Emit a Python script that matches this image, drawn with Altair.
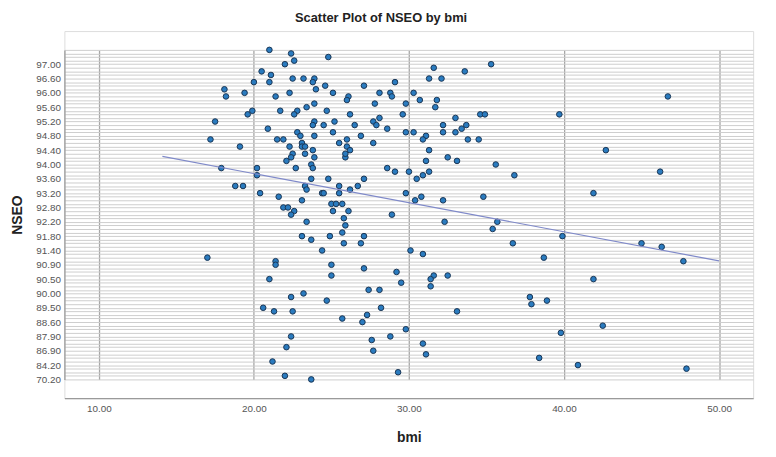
import altair as alt
import pandas as pd

# NSEO categories, top of the axis to bottom
categories = [
    "97.60", "97.40", "97.20", "97.10", "97.00", "96.90", "96.80", "96.70", "96.60", "96.50",
    "96.40", "96.20", "96.00", "95.90", "95.80", "95.70", "95.60", "95.50", "95.40", "95.30",
    "95.20", "95.10", "95.00", "94.90", "94.80", "94.70", "94.60", "94.50", "94.40", "94.30",
    "94.20", "94.10", "94.00", "93.90", "93.80", "93.70", "93.60", "93.50", "93.40", "93.30",
    "93.20", "93.10", "93.00", "92.90", "92.80", "92.60", "92.50", "92.40", "92.20", "92.10",
    "92.00", "91.90", "91.80", "91.70", "91.60", "91.50", "91.40", "91.30", "91.10", "91.00",
    "90.90", "90.80", "90.70", "90.60", "90.50", "90.40", "90.30", "90.10", "90.00", "89.90",
    "89.80", "89.60", "89.50", "89.30", "89.00", "88.80", "88.60", "88.40", "88.20", "88.00",
    "87.90", "87.60", "87.40", "87.20", "86.90", "86.50", "86.00", "85.20", "84.20", "82.00",
    "80.50", "76.00", "70.20",
]

labeled = [
    "97.00", "96.60", "96.00", "95.60", "95.20", "94.80", "94.40", "94.00", "93.60", "93.20",
    "92.80", "92.20", "91.80", "91.40", "90.90", "90.50", "90.00", "89.50", "88.60", "87.90",
    "86.90", "84.20", "70.20",
]

bmi = [
    21.0, 22.4, 24.8, 22.6, 22.0, 20.5, 21.1, 20.0, 21.0, 22.5, 23.2, 23.9, 23.8, 24.0, 24.6,
    25.1, 18.1, 18.2, 19.4, 22.3, 21.4, 23.9, 23.4, 21.7, 22.8, 22.6, 19.9, 19.6, 24.7, 17.5,
    23.9, 23.8, 24.5, 25.2, 20.9, 22.8, 23.0, 23.9, 25.1, 17.2, 21.5, 21.9, 23.1, 23.1, 25.5,
    19.1, 22.3, 23.3, 23.8, 23.3, 22.5, 22.4, 23.9, 22.1, 25.9, 25.9, 17.9, 20.2, 20.2, 22.7,
    23.7, 23.8, 18.8, 19.3, 20.4, 21.6, 23.3, 23.4, 23.7, 24.8, 24.4, 24.5, 25.5, 25.5, 23.1,
    21.9, 22.2, 22.6, 22.4, 25.0, 25.3, 25.7, 25.1, 25.8, 23.4, 23.1, 23.7, 24.9, 25.7, 25.8,
    24.4, 17.0, 21.4, 21.4, 25.0, 25.0, 21.0, 23.2, 22.4, 24.7, 20.6, 21.3, 22.5, 25.7, 22.4,
    22.1, 21.2, 22.0, 23.7,
    31.6, 35.3, 33.6, 31.3, 32.1, 29.1, 27.1, 28.1, 28.8, 28.9, 30.3, 26.1, 26.0, 27.8, 29.8,
    30.7, 31.8, 31.7, 26.2, 29.6, 34.6, 34.9, 33.0, 27.7, 28.1, 27.9, 26.5, 28.6, 32.2, 32.2,
    29.8, 30.3, 33.0, 33.4, 33.7, 26.9, 31.1, 30.9, 33.8, 34.5, 26.0, 27.7, 26.0, 26.2, 31.3,
    32.5, 33.1, 31.1, 35.6, 36.8, 28.6, 29.1, 30.0, 31.3, 30.9, 30.5, 27.1, 26.7, 26.2, 29.8,
    30.8, 30.4, 32.2, 34.8, 26.1, 28.9, 32.3, 35.7, 35.4, 25.9, 27.1, 26.9, 36.7, 30.1, 30.9,
    27.1, 29.2, 29.5, 31.6, 31.4, 31.4, 32.5, 27.4, 28.1, 28.2, 27.3, 27.0, 33.1, 37.8, 37.9,
    29.8, 28.8, 27.6, 27.7, 30.9, 31.1, 29.3,
    46.7, 39.7, 42.7, 46.2, 41.9, 39.9, 45.0, 46.3, 47.7, 38.7, 41.9, 38.9, 42.5, 39.8, 38.4,
    40.9, 47.9,
]

nseo = [
    "97.60", "97.40", "97.20", "97.10", "97.00", "96.80", "96.70", "96.50", "96.50", "96.60",
    "96.60", "96.60", "96.50", "96.20", "96.40", "96.00", "96.20", "95.90", "96.00", "96.00",
    "95.90", "95.70", "95.60", "95.50", "95.50", "95.40", "95.50", "95.40", "95.50", "95.20",
    "95.20", "95.10", "95.10", "95.20", "95.00", "94.90", "94.80", "94.80", "94.90", "94.70",
    "94.70", "94.70", "94.60", "94.50", "94.60", "94.50", "94.50", "94.50", "94.40", "94.30",
    "94.30", "94.20", "94.20", "94.10", "94.20", "94.30", "93.90", "93.90", "93.70", "93.90",
    "94.00", "93.90", "93.40", "93.40", "93.20", "93.10", "93.40", "93.30", "93.60", "93.60",
    "93.20", "93.20", "93.40", "93.20", "93.00", "92.80", "92.80", "92.60", "92.50", "92.90",
    "92.90", "92.90", "92.60", "92.40", "92.20", "91.80", "91.70", "91.80", "91.90", "91.60",
    "91.40", "91.10", "91.00", "90.90", "90.90", "90.60", "90.50", "90.00", "89.90", "89.80",
    "89.50", "89.30", "89.30", "88.80", "87.90", "87.20", "85.20", "76.00", "70.20",
    "96.90", "97.00", "96.80", "96.60", "96.60", "96.50", "96.40", "96.00", "96.00", "95.90",
    "96.00", "95.90", "95.80", "95.70", "95.70", "95.80", "95.80", "95.60", "95.40", "95.40",
    "95.40", "95.40", "95.30", "95.20", "95.30", "95.10", "95.10", "95.00", "95.10", "94.90",
    "94.90", "94.90", "94.90", "95.00", "95.10", "94.80", "94.80", "94.70", "94.70", "94.70",
    "94.70", "94.60", "94.50", "94.40", "94.40", "94.20", "94.10", "94.10", "94.00", "93.70",
    "93.90", "93.80", "93.80", "93.80", "93.70", "93.60", "93.60", "93.40", "93.30", "93.20",
    "93.10", "93.00", "93.00", "93.10", "92.60", "92.50", "92.20", "92.20", "92.00", "92.10",
    "91.80", "91.60", "91.60", "91.40", "91.30", "90.80", "90.70", "90.40", "90.60", "90.50",
    "90.30", "90.60", "90.10", "90.10", "89.50", "89.00", "88.60", "89.30", "89.90", "89.60",
    "88.20", "87.90", "87.60", "86.90", "87.40", "86.50", "80.50",
    "95.90", "95.40", "94.40", "93.80", "93.20", "91.80", "91.60", "91.50", "91.00", "91.10",
    "90.50", "89.80", "88.40", "88.00", "86.00", "84.20", "82.00",
]

# fit line end points: bmi and position along the category axis (0 = top category)
fit_bmi = [14.1, 50.0]
fit_pos = [29.75, 58.9]

pts = pd.DataFrame({"bmi": bmi, "NSEO": nseo})
fit = pd.DataFrame({"bmi": fit_bmi, "pos": fit_pos})

H = 371
PAD = 5.25
N = len(categories)
STEP = H / (N - 1 + 2 * PAD)
Y_RANGE = [PAD * STEP, H - PAD * STEP]

FONT = "Liberation Sans"
label_list = ",".join("'%s'" % v for v in labeled)

x_enc = alt.X(
    "bmi:Q",
    scale=alt.Scale(domain=[7.78, 52.2], nice=False, zero=False),
    axis=alt.Axis(
        values=[10, 20, 30, 40, 50], format=".2f", title="bmi",
        grid=True, gridColor="#a6a6a6", gridWidth=1.3,
        ticks=False, domainColor="#9a9a9a", domainWidth=1.3,
        labelFont=FONT, labelFontSize=10, labelColor="#555555", labelPadding=5,
        titleFont=FONT, titleFontSize=14, titleFontWeight="bold", titleColor="#222222",
        titleY=40, titleBaseline="middle",
    ),
)

points = alt.Chart(pts).mark_point(
    filled=True, size=32, fill="#2a7bbf", stroke="#1a3654", strokeWidth=1, opacity=1
).encode(
    x=x_enc,
    y=alt.Y(
        "NSEO:O",
        scale=alt.Scale(type="point", domain=categories, range=Y_RANGE, padding=0),
        axis=alt.Axis(
            title="NSEO", grid=True, gridColor="#cdcdcd", gridWidth=1,
            ticks=False, domainColor="#9a9a9a", domainWidth=1.3,
            labelOverlap=False,
            labelExpr="indexof([%s], datum.label) >= 0 ? datum.label : ''" % label_list,
            labelFont=FONT, labelFontSize=10, labelColor="#555555", labelPadding=4,
            titleFont=FONT, titleFontSize=14, titleFontWeight="bold", titleColor="#222222",
            titleX=-47, titleBaseline="middle",
        ),
    ),
)

line = alt.Chart(fit).mark_line(color="#7f89c9", strokeWidth=1.2).encode(
    x=alt.X("bmi:Q"),
    y=alt.Y(
        "pos:Q",
        scale=alt.Scale(domain=[-PAD, N - 1 + PAD], reverse=True, nice=False, zero=False),
        axis=None,
    ),
)

chart = alt.layer(points, line).resolve_scale(y="independent").properties(
    width=696,
    height=H,
    autosize=alt.AutoSizeParams(type="none"),
    padding={"left": 57, "top": 21, "right": 15, "bottom": 49},
    title=alt.TitleParams(
        "Scatter Plot of NSEO by bmi", font=FONT, fontSize=13, fontWeight="bold",
        color="#222222", anchor="middle", dx=-28, offset=6,
    ),
).configure_view(stroke=None).configure(background="white")

chart.save("out.html", embed_options={"renderer": "svg", "actions": False})
